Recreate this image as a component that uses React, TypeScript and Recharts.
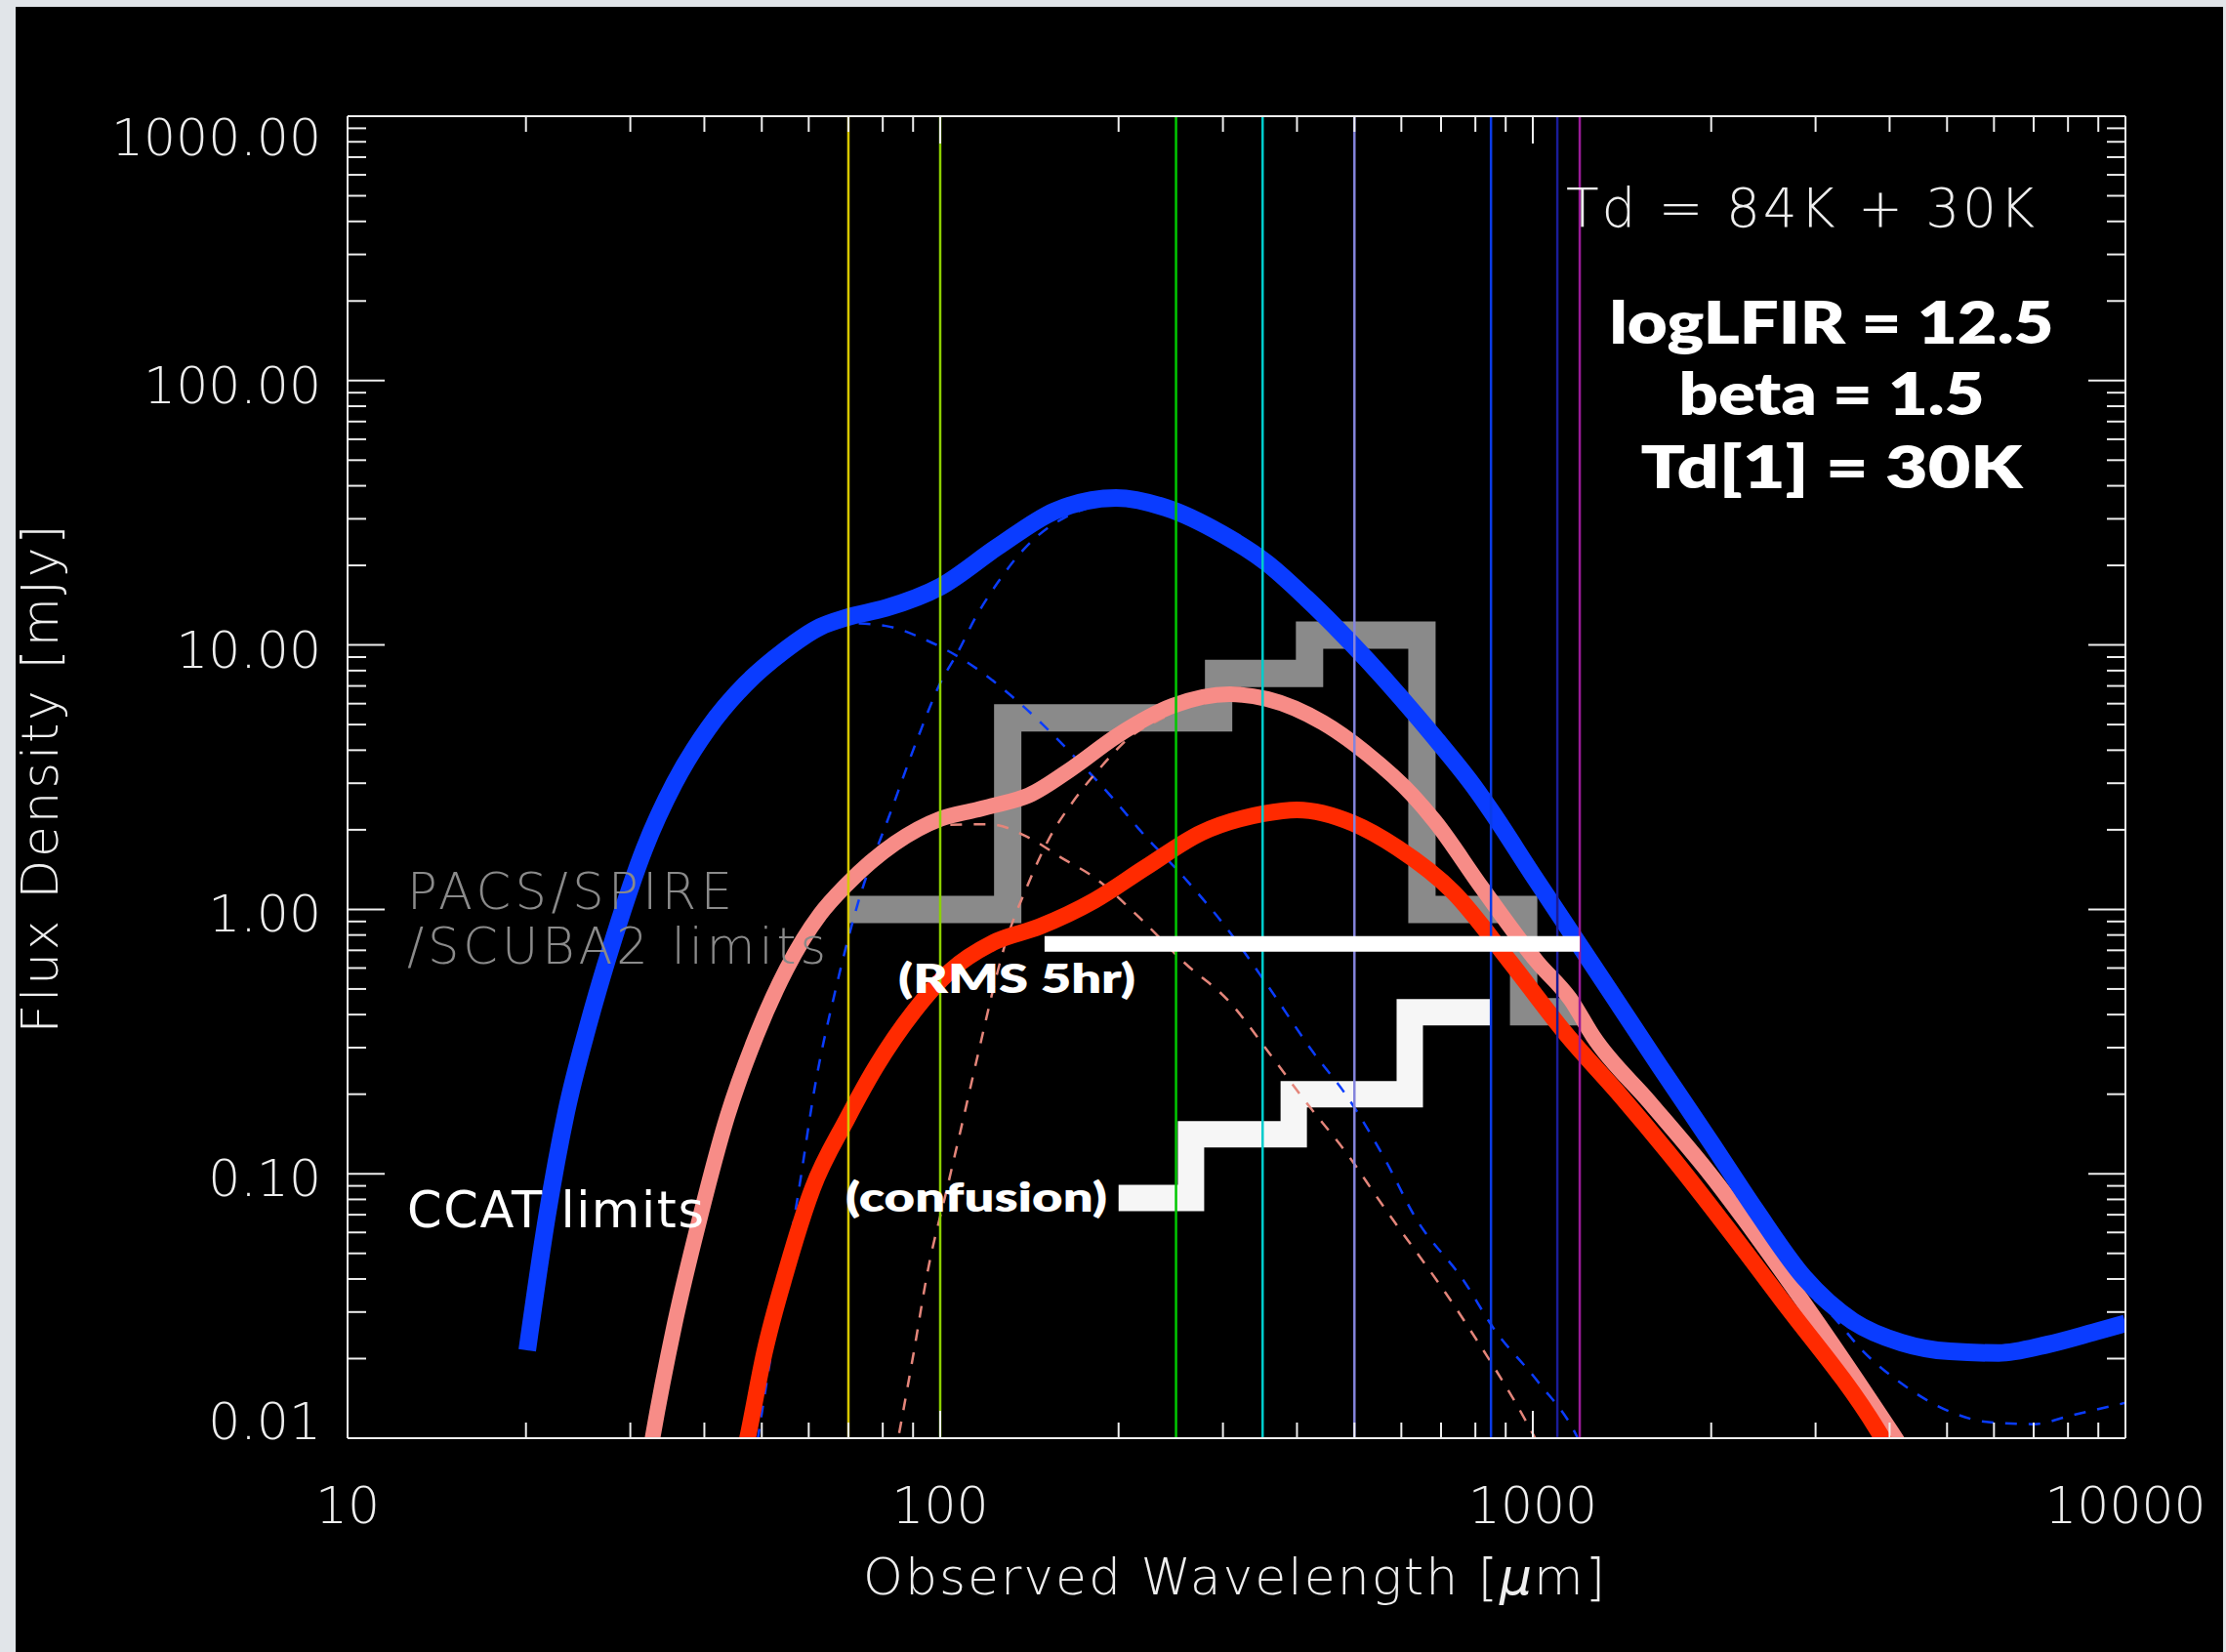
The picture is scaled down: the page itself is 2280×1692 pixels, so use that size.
import React from "react";
import { LineChart, Line, XAxis, YAxis } from "recharts";

const W = 2280;
const H = 1692;

const blueTotalLam = [20.1, 21.7, 23.4, 25.5, 28.2, 31.7, 35.6, 40.6, 46.9, 54.3, 62.7, 69.5, 81, 100, 125, 156, 198, 240, 299, 356, 415, 462, 527, 600, 684, 796, 850, 1000, 1200, 1350, 1637, 2000, 2376, 2873, 3469, 4188, 5058, 6110, 7380, 8910, 10000];
const blueTotalFlux = [0.0215, 0.069, 0.172, 0.368, 0.79, 1.7, 3.0, 4.84, 7.1, 9.44, 11.7, 12.7, 13.8, 16.6, 23.5, 32.1, 36.0, 33.1, 26.3, 20.4, 15.0, 11.85, 8.7, 6.29, 4.45, 2.91, 2.36, 1.35, 0.73, 0.49, 0.255, 0.131, 0.073, 0.0404, 0.0277, 0.023, 0.0213, 0.021, 0.0226, 0.0253, 0.0272];

const pinkTotalLam = [32, 32.7, 35.6, 39.4, 43.7, 49, 55, 62.7, 69.5, 83.9, 100, 115, 123, 141, 167, 199, 247, 308, 356, 442, 527, 627, 684, 820, 1019, 1159, 1265, 1573, 1968, 2870, 4035, 4400];
const pinkTotalFlux = [0.0075, 0.01, 0.0267, 0.0695, 0.164, 0.335, 0.593, 0.957, 1.24, 1.78, 2.2, 2.38, 2.47, 2.7, 3.42, 4.54, 5.89, 6.51, 6.25, 5.09, 3.85, 2.7, 2.15, 1.21, 0.63, 0.455, 0.33, 0.187, 0.103, 0.0324, 0.0105, 0.0078];

const redTotalLam = [45.8, 47.3, 50.5, 55, 60.9, 69.5, 78, 90.2, 104, 123, 147, 182, 222, 276, 351, 400, 497, 591, 735, 912, 1135, 1413, 1694, 2613, 3810, 4100];
const redTotalFlux = [0.0072, 0.01, 0.021, 0.043, 0.088, 0.16, 0.255, 0.41, 0.585, 0.75, 0.86, 1.08, 1.44, 1.95, 2.3, 2.38, 2.12, 1.71, 1.16, 0.64, 0.34, 0.195, 0.12, 0.034, 0.0108, 0.0082];

// dashed components
const blueHotLam = [20.1, 23.4, 28.2, 35.6, 46.9, 54.3, 62.7, 69.5, 81, 95, 112, 131, 149, 170, 198, 217, 258, 308, 358, 426, 486, 566, 632, 767, 859, 1019, 1183, 1230];
const blueHotFlux = [0.0215, 0.172, 0.79, 3.0, 7.1, 9.44, 11.5, 12.1, 11.8, 10.4, 8.5, 6.5, 5.0, 3.7, 2.55, 2.0, 1.32, 0.82, 0.51, 0.288, 0.196, 0.111, 0.069, 0.039, 0.026, 0.0164, 0.0103, 0.0085];

const blueColdLam = [48.5, 53.5, 57.4, 61.8, 66.5, 72.6, 82.7, 92, 99.8, 107.4, 114.5, 125, 139.6, 162.5, 189, 210, 240, 299, 356, 415, 527, 684, 850, 1000, 1200, 1637, 2376, 2820, 3213, 3610, 4190, 5060, 5870, 7000, 8110, 10000];
const blueColdFlux = [0.008, 0.032, 0.08, 0.229, 0.49, 1.05, 2.37, 4.55, 7.1, 9.5, 12.6, 17.2, 23.5, 30.4, 34.0, 34.6, 32.5, 25.9, 20.1, 14.8, 8.6, 4.4, 2.3, 1.32, 0.71, 0.25, 0.068, 0.038, 0.0288, 0.0213, 0.0161, 0.0126, 0.0115, 0.0113, 0.0122, 0.0136];

const pinkHotLam = [32, 35.6, 39.4, 43.7, 49, 55, 62.7, 69.5, 83.9, 100, 121, 141, 160, 182, 217, 258, 308, 358, 408, 497, 539, 767, 980, 1040];
const pinkHotFlux = [0.0075, 0.0267, 0.0695, 0.164, 0.335, 0.593, 0.957, 1.24, 1.76, 2.08, 2.1, 1.87, 1.57, 1.32, 0.93, 0.63, 0.446, 0.289, 0.195, 0.111, 0.085, 0.0277, 0.0113, 0.0088];

const pinkColdLam = [82.5, 90.2, 95.3, 102.7, 109, 115, 129, 141, 153, 167, 186, 208, 237, 270, 300, 356, 442, 527, 684, 820, 1019, 1265, 1573, 1968, 2870, 4035, 4400];
const pinkColdFlux = [0.007, 0.021, 0.043, 0.088, 0.156, 0.264, 0.75, 1.26, 1.87, 2.53, 3.42, 4.44, 5.28, 6.0, 6.35, 6.15, 5.05, 3.85, 2.13, 1.2, 0.625, 0.328, 0.186, 0.102, 0.032, 0.0104, 0.0077];

// instrument limits (step edges)
const pacsLam = [70, 130, 295, 420, 650, 965, 1200];
const pacsFlux = [1.0, 5.3, 7.8, 10.9, 1.0, 0.41, 0.41];

const ccatLam = [200, 265, 395, 620, 850];
const ccatFlux = [0.081, 0.141, 0.2, 0.408, 0.408];

const rmsLam = [150, 1200];
const rmsFlux = [0.74, 0.74];

// filter bands
const bandLam = [70, 100, 250, 350, 500, 850, 1100, 1200];
const bandColor = ["#d8c800", "#8cd000", "#00c800", "#00cccc", "#8484dc", "#0a3ce8", "#1a1c98", "#9a1c98"];

const xMajor = [10, 100, 1000, 10000];
const yMajor = [0.01, 0.1, 1, 10, 100, 1000];
const minorSteps = [2, 3, 4, 5, 6, 7, 8, 9];

const X_DOMAIN = [10, 10000];
const Y_DOMAIN = [0.01, 1000];

const addMinor = (majors: number[]) =>
  majors.flatMap((m, i) =>
    i < majors.length - 1 ? [m, ...minorSteps.map((k) => +(m * k).toPrecision(3))] : [m]
  );
const xTicks = addMinor(xMajor);
const yTicks = addMinor(yMajor);

const pts = (lam: number[], flux: number[]) => lam.map((x, i) => ({ x, y: flux[i] }));
const isMajor = (v: number) => Math.abs(Math.log10(v) - Math.round(Math.log10(v))) < 1e-6;

const AXIS = "#eeeeee";
const BLUE = "#0a3cff";
const PINK = "#f78c87";
const PINK_DASH = "#e4857a";
const RED = "#ff2a00";
const IDL_FONT = "'DejaVu Sans', 'Liberation Sans', sans-serif";
const GILL = "Lato, 'Open Sans', sans-serif";

function BottomTick(props: any) {
  const { x, y, payload } = props;
  const v = payload.value;
  const major = isMajor(v);
  return (
    <g>
      <line x1={x} y1={y} x2={x} y2={y - (major ? 28 : 16)} stroke={AXIS} strokeWidth={2} />
      {major && (
        <text x={x} y={y + 87} textAnchor="middle" fill={AXIS} fontSize={52} fontFamily={IDL_FONT} fontWeight={200}>
          {v}
        </text>
      )}
    </g>
  );
}

function TopTick(props: any) {
  const { x, y, payload } = props;
  const major = isMajor(payload.value);
  return <line x1={x} y1={y} x2={x} y2={y + (major ? 28 : 16)} stroke={AXIS} strokeWidth={2} />;
}

function LeftTick(props: any) {
  const { x, y, payload } = props;
  const v = payload.value;
  const major = isMajor(v);
  // IDL pulls the end labels inside the box
  const dy = v === 1000 ? 40 : v === 0.01 ? 1 : 23;
  return (
    <g>
      <line x1={x} y1={y} x2={x + (major ? 38 : 19)} y2={y} stroke={AXIS} strokeWidth={2} />
      {major && (
        <text x={x - 27} y={y + dy} textAnchor="end" fill={AXIS} fontSize={52} fontFamily={IDL_FONT} fontWeight={200}>
          {v.toFixed(2)}
        </text>
      )}
    </g>
  );
}

function RightTick(props: any) {
  const { x, y, payload } = props;
  const major = isMajor(payload.value);
  return <line x1={x} y1={y} x2={x - (major ? 38 : 19)} y2={y} stroke={AXIS} strokeWidth={2} />;
}

const base = {
  xAxisId: "b",
  yAxisId: "l",
  dataKey: "y",
  dot: false,
  activeDot: false,
  isAnimationActive: false,
  strokeLinecap: "butt" as const,
};

export default function App() {
  const axisLine = { stroke: AXIS, strokeWidth: 2 };
  return (
    <div style={{ position: "absolute", left: 0, top: 0, width: W, height: H, background: "#e1e5e9", overflow: "hidden" }}>
      <div style={{ position: "absolute", left: 16, top: 7, right: 3, bottom: 0, background: "#000" }} />
      <div style={{ position: "absolute", left: 0, top: 0 }}>
        <LineChart width={W} height={H} margin={{ top: 79, right: 63, bottom: 119, left: 56 }}>
          <XAxis xAxisId="b" type="number" dataKey="x" scale="log" domain={X_DOMAIN} allowDataOverflow ticks={xTicks}
            interval={0} tickSize={0} tickMargin={0} tickLine={false} axisLine={axisLine} tick={BottomTick} height={100} />
          <XAxis xAxisId="t" orientation="top" type="number" dataKey="x" scale="log" domain={X_DOMAIN} allowDataOverflow ticks={xTicks}
            interval={0} tickSize={0} tickMargin={0} tickLine={false} axisLine={axisLine} tick={TopTick} height={40} />
          <YAxis yAxisId="l" type="number" dataKey="y" scale="log" domain={Y_DOMAIN} allowDataOverflow ticks={yTicks}
            interval={0} tickSize={0} tickMargin={0} tickLine={false} axisLine={axisLine} tick={LeftTick} width={300} />
          <YAxis yAxisId="r" orientation="right" type="number" dataKey="y" scale="log" domain={Y_DOMAIN} allowDataOverflow ticks={yTicks}
            interval={0} tickSize={0} tickMargin={0} tickLine={false} axisLine={axisLine} tick={RightTick} width={40} />

          <Line {...base} data={pts(pacsLam, pacsFlux)} type="stepAfter" stroke="#8a8a8a" strokeWidth={28} strokeLinejoin="miter" />
          <Line {...base} data={pts(ccatLam, ccatFlux)} type="stepAfter" stroke="#f6f6f6" strokeWidth={27} strokeLinejoin="miter" />

          <Line {...base} data={pts(blueHotLam, blueHotFlux)} type="monotone" stroke={BLUE} strokeWidth={2.5} strokeDasharray="12 12" />
          <Line {...base} data={pts(blueColdLam, blueColdFlux)} type="monotone" stroke={BLUE} strokeWidth={2.5} strokeDasharray="12 12" />
          <Line {...base} data={pts(pinkHotLam, pinkHotFlux)} type="monotone" stroke={PINK_DASH} strokeWidth={2.5} strokeDasharray="12 12" />
          <Line {...base} data={pts(pinkColdLam, pinkColdFlux)} type="monotone" stroke={PINK_DASH} strokeWidth={2.5} strokeDasharray="12 12" />

          <Line {...base} data={pts(pinkTotalLam, pinkTotalFlux)} type="monotone" stroke={PINK} strokeWidth={16} strokeLinejoin="round" />
          <Line {...base} data={pts(redTotalLam, redTotalFlux)} type="monotone" stroke={RED} strokeWidth={17} strokeLinejoin="round" />
          <Line {...base} data={pts(blueTotalLam, blueTotalFlux)} type="monotone" stroke={BLUE} strokeWidth={18} strokeLinejoin="round" />

          {bandLam.map((lam, i) => (
            <Line key={lam} {...base} data={pts([lam, lam], Y_DOMAIN)} type="linear" stroke={bandColor[i]} strokeWidth={2.5} />
          ))}

          <Line {...base} data={pts(rmsLam, rmsFlux)} type="linear" stroke="#ffffff" strokeWidth={16} />
        </LineChart>
      </div>
      <svg width={W} height={H} style={{ position: "absolute", left: 0, top: 0, pointerEvents: "none" }}>
        <g fontFamily={IDL_FONT} fontWeight={200}>
          <text x={1604} y={232} fill={AXIS} fontSize={55} textLength={480} lengthAdjust="spacing">Td = 84K + 30K</text>
          <text x={417} y={931} fill="#8a8a8a" fontSize={51} textLength={333} lengthAdjust="spacing">PACS/SPIRE</text>
          <text x={417} y={987} fill="#8a8a8a" fontSize={51} textLength={429} lengthAdjust="spacing">/SCUBA2 limits</text>
          <text x={417} y={1257} fill="#ffffff" fontSize={51} fontWeight={400} textLength={304} lengthAdjust="spacing">CCAT limits</text>
          <text x={1264} y={1633} fill={AXIS} fontSize={52} textAnchor="middle" textLength={760} lengthAdjust="spacing">
            Observed Wavelength [<tspan fontStyle="italic">μ</tspan>m]
          </text>
          <text transform="translate(59 798) rotate(-90)" fill={AXIS} fontSize={52} textAnchor="middle" textLength={521} lengthAdjust="spacing">
            Flux Density [mJy]
          </text>
        </g>
        <g fontFamily={GILL} fontWeight={800} fill="#ffffff">
          <text x={1876} y={352} fontSize={60} textAnchor="middle" textLength={455} lengthAdjust="spacingAndGlyphs">logLFIR = 12.5</text>
          <text x={1876} y={425} fontSize={60} textAnchor="middle" textLength={313} lengthAdjust="spacingAndGlyphs">beta = 1.5</text>
          <text x={1876} y={500} fontSize={60} textAnchor="middle" textLength={391} lengthAdjust="spacingAndGlyphs">Td[1] = 30K</text>
          <text x={920} y={1017} fontSize={42} textLength={243} lengthAdjust="spacingAndGlyphs">(RMS 5hr)</text>
          <text x={866} y={1241} fontSize={42} textLength={268} lengthAdjust="spacingAndGlyphs">(confusion)</text>
        </g>
      </svg>
    </div>
  );
}
